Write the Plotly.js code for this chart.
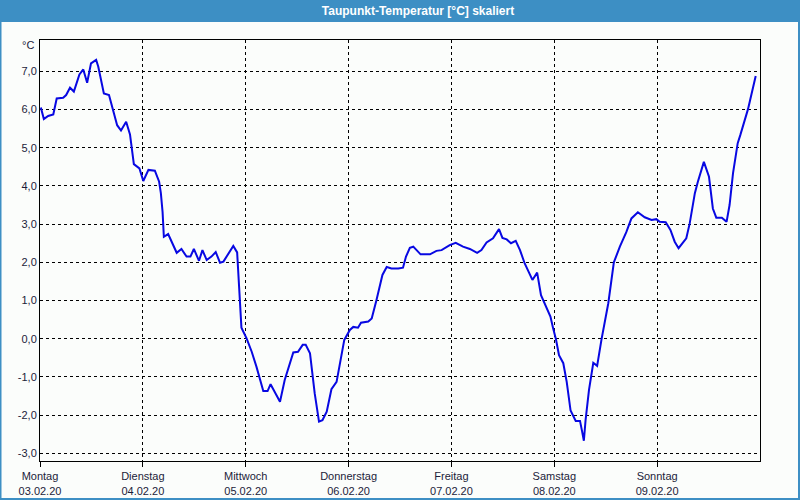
<!DOCTYPE html>
<html>
<head>
<meta charset="utf-8">
<script src="https://cdn.plot.ly/plotly-3.0.1.min.js"></script>
<style>
html,body{margin:0;padding:0;background:#fbfdfb;}
#chart{width:800px;height:500px;}
</style>
</head>
<body>
<div id="chart"></div>
<script>
// hours since Monday 03.02.20 00:00
const hours = [0.2,0.9,1.9,3.1,3.9,5.4,6.1,7.0,7.9,9.2,10.1,11.0,11.9,13.1,13.6,14.9,16.1,17.1,18.0,18.9,20.1,21.0,21.9,23.2,24.1,25.3,26.8,27.8,28.2,28.6,28.9,29.9,31.9,33.0,34.2,35.1,35.9,37.1,37.9,38.9,40.0,41.0,42.0,42.8,45.1,46.0,46.5,47.0,48.2,49.4,50.5,52.1,53.1,53.8,56.0,57.1,59.1,60.2,61.3,62.0,63.0,64.1,65.1,65.9,66.9,68.0,69.2,70.0,71.0,72.3,73.1,74.2,74.9,76.6,77.4,78.5,79.9,80.9,82.0,83.6,84.7,85.4,86.3,87.1,88.8,91.0,92.5,93.7,95.6,97.0,98.7,100.3,102.0,103.0,104.2,105.7,107.1,107.9,108.9,109.9,111.0,112.0,113.1,114.9,116.0,116.9,118.0,119.1,119.7,120.4,121.1,122.1,122.9,123.8,125.0,126.0,126.5,126.9,127.3,128.1,129.1,130.0,131.0,132.6,133.9,135.3,136.8,138.0,139.5,141.1,142.7,143.8,144.6,146.0,147.1,148.1,149.0,150.8,151.6,152.8,153.5,154.9,156.1,157.0,157.8,159.1,160.2,160.9,161.7,162.8,163.4,164.4,165.2,165.7,166.4,167.0];
const dewpoint = [6.05,5.75,5.83,5.87,6.29,6.31,6.38,6.57,6.47,6.92,7.05,6.70,7.21,7.30,7.12,6.42,6.38,5.99,5.59,5.45,5.68,5.35,4.57,4.46,4.13,4.42,4.40,4.11,3.81,3.32,2.67,2.74,2.25,2.35,2.15,2.15,2.35,2.04,2.32,2.06,2.15,2.27,1.99,2.02,2.43,2.26,1.27,0.29,0.01,-0.34,-0.73,-1.37,-1.37,-1.19,-1.65,-1.08,-0.36,-0.34,-0.16,-0.16,-0.38,-1.43,-2.17,-2.13,-1.91,-1.32,-1.13,-0.64,-0.03,0.23,0.31,0.29,0.42,0.45,0.53,1.01,1.67,1.88,1.84,1.84,1.86,2.15,2.38,2.41,2.21,2.21,2.30,2.32,2.45,2.51,2.41,2.35,2.25,2.32,2.52,2.63,2.87,2.64,2.60,2.50,2.56,2.32,1.97,1.54,1.73,1.14,0.84,0.58,0.29,-0.02,-0.43,-0.64,-1.13,-1.88,-2.15,-2.15,-2.43,-2.67,-2.13,-1.34,-0.63,-0.71,-0.03,0.93,2.00,2.41,2.79,3.15,3.31,3.18,3.11,3.13,3.06,3.05,2.85,2.54,2.37,2.63,3.02,3.81,4.11,4.63,4.24,3.41,3.17,3.17,3.06,3.50,4.33,5.12,5.33,5.68,6.01,6.25,6.60,6.88];
const dayTicks = [0,24,48,72,96,120,144];
const dayNames = ["Montag","Dienstag","Mittwoch","Donnerstag","Freitag","Samstag","Sonntag"];
const dayDates = ["03.02.20","04.02.20","05.02.20","06.02.20","07.02.20","08.02.20","09.02.20"];
const yTicks = [-3,-2,-1,0,1,2,3,4,5,6,7];
const yLabels = ["-3,0","-2,0","-1,0","0,0","1,0","2,0","3,0","4,0","5,0","6,0","7,0"];
const titleText = "Taupunkt-Temperatur [°C] skaliert";
const unitText = "°C";

const W = 720, H = 421, ML = 40, MT = 40;
const px = v => v / W, py = v => v / H;

const trace = {
  x: hours, y: dewpoint, type: 'scatter', mode: 'lines',
  line: {color: '#0808e2', width: 2}, hoverinfo: 'skip'
};
const font = {family: 'Liberation Sans, Arial, sans-serif', size: 11, color: '#1c1c3a'};
const layout = {
  width: 800, height: 500,
  margin: {l: ML, r: 40, t: MT, b: 39, pad: 0},
  paper_bgcolor: '#fbfdfb', plot_bgcolor: '#fbfdfb',
  showlegend: false,
  font: font,
  title: {text: titleText, font: {family: 'Liberation Sans, Arial, sans-serif', size: 12, color: '#ffffff', weight: 'bold'},
          x: 420/800, xanchor: 'center', y: 1 - 11/500, yanchor: 'middle', xref: 'paper'},
  xaxis: {
    range: [0, 168], tickvals: dayTicks,
    ticktext: dayNames.map((d, i) => d + '<br>' + dayDates[i]),
    showgrid: true, gridcolor: '#000000', gridwidth: 1, griddash: 'dot',
    showline: true, linecolor: '#000000', linewidth: 1, mirror: true,
    ticks: 'outside', ticklen: 5, tickcolor: '#000000', tickwidth: 1,
    zeroline: false, tickfont: font, fixedrange: true
  },
  yaxis: {
    range: [-3.20, 7.82], tickvals: yTicks, ticktext: yLabels,
    showgrid: true, gridcolor: '#000000', gridwidth: 1, griddash: 'dot',
    showline: true, linecolor: '#000000', linewidth: 1, mirror: true,
    ticks: '', ticklen: 0, zeroline: false, tickfont: font, fixedrange: true
  },
  shapes: [
    {type: 'rect', xref: 'paper', yref: 'paper', layer: 'below',
     x0: px(-ML), x1: px(800 - ML), y0: 1 + py(MT - 21), y1: 1 + py(MT),
     fillcolor: '#3d8fc4', line: {width: 0}},
    {type: 'rect', xref: 'paper', yref: 'paper', layer: 'below',
     x0: px(-ML + 0.5), x1: px(800 - ML - 1), y0: -py(500 - MT - H - 1), y1: 1 + py(MT - 21),
     fillcolor: 'rgba(0,0,0,0)', line: {width: 2, color: '#3d8fc4'}}
  ],
  annotations: [
    {text: unitText, xref: 'paper', yref: 'paper', x: px(-4), y: 1 + py(-5),
     xanchor: 'right', yanchor: 'middle', showarrow: false, font: font}
  ]
};
Plotly.newPlot('chart', [trace], layout, {displayModeBar: false, staticPlot: true});
</script>
</body>
</html>
